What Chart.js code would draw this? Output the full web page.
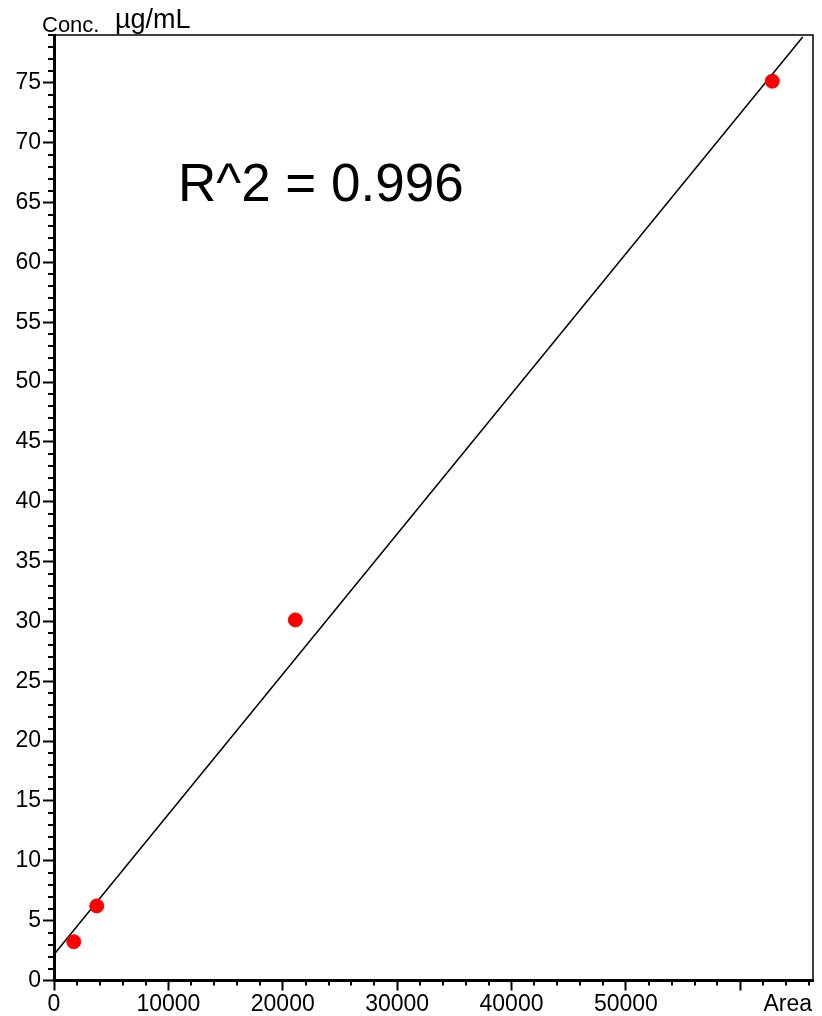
<!DOCTYPE html>
<html>
<head>
<meta charset="utf-8">
<title>Calibration curve</title>
<script src="https://cdn.jsdelivr.net/npm/chart.js@4.4.0/dist/chart.umd.min.js"></script>
<style>
    html, body { margin: 0; padding: 0; background: #fff; }
    #wrap { width: 822px; height: 1016px; }
</style>
</head>
<body>
<div id="wrap"><canvas id="calib" width="822" height="1016"></canvas></div>
<script>
// Standards: peak area against concentration (µg/mL)
const areas = [1730, 3740, 21100, 62800];
const concs = [3.24, 6.23, 30.13, 75.14];

// Ends of the regression line
const fitAreas = [0, 65460];
const fitConcs = [2.17, 78.83];

const r2Label = 'R^2 = 0.996';

// Labelled (major) ticks; the 60000 tick carries no label
const xTickValues = [0, 10000, 20000, 30000, 40000, 50000, 60000];
const xTickLabels = ['0', '10000', '20000', '30000', '40000', '50000', ''];
const yTickValues = [0, 5, 10, 15, 20, 25, 30, 35, 40, 45, 50, 55, 60, 65, 70, 75];
const xMinorStep = 2000;
const yMinorStep = 1;

const FONT = '"Liberation Sans", Arial, sans-serif';
const TICK_FONT_SIZE = 23;

/**
 * Short minor ticks between the labelled ones
 */
const minorTicks = {
    id: 'minorTicks',
    afterDraw(chart) {
        const { ctx, chartArea } = chart;
        const x = chart.scales.x;
        const y = chart.scales.y;

        ctx.save();
        ctx.strokeStyle = '#000';
        ctx.lineWidth = 2;
        ctx.beginPath();
        for (let v = 0; v <= x.max; v += xMinorStep) {
            if (xTickValues.includes(v)) {
                continue;
            }
            const px = Math.round(x.getPixelForValue(v));
            ctx.moveTo(px, chartArea.bottom);
            ctx.lineTo(px, chartArea.bottom + 5);
        }
        for (let v = 0; v <= y.max; v += yMinorStep) {
            if (yTickValues.includes(v)) {
                continue;
            }
            const py = Math.round(y.getPixelForValue(v));
            ctx.moveTo(chartArea.left, py);
            ctx.lineTo(chartArea.left - 6, py);
        }
        ctx.stroke();

        // thin frame on the top and right sides
        ctx.lineWidth = 1.5;
        ctx.beginPath();
        ctx.moveTo(chartArea.left, chartArea.top);
        ctx.lineTo(chartArea.right, chartArea.top);
        ctx.lineTo(chartArea.right, chartArea.bottom);
        ctx.stroke();
        ctx.restore();
    },
};

/**
 * Axis captions and the R^2 note
 */
const captions = {
    id: 'captions',
    afterDraw(chart) {
        const { ctx, chartArea } = chart;

        ctx.save();
        ctx.fillStyle = '#000';
        ctx.textAlign = 'left';
        ctx.textBaseline = 'alphabetic';

        ctx.font = `22px ${FONT}`;
        ctx.fillText('Conc.', 42, 32);
        ctx.font = `27px ${FONT}`;
        ctx.fillText('µg/mL', 115, 28);

        ctx.font = `53px ${FONT}`;
        ctx.fillText(r2Label, 178, 201);

        ctx.font = `${TICK_FONT_SIZE}px ${FONT}`;
        ctx.textAlign = 'right';
        ctx.textBaseline = 'middle';
        ctx.fillText('Area', 812, chartArea.bottom + 10 + TICK_FONT_SIZE * 0.6);
        ctx.restore();
    },
};

const points = areas.map((a, i) => ({ x: a, y: concs[i] }));
const fitLine = fitAreas.map((a, i) => ({ x: a, y: fitConcs[i] }));

new Chart(document.getElementById('calib'), {
    type: 'scatter',
    data: {
        datasets: [
            {
                label: 'Standards',
                data: points,
                backgroundColor: '#ff0000',
                borderColor: '#ff0000',
                pointRadius: 7,
                pointHoverRadius: 7,
                order: 0,
            },
            {
                label: 'Fit',
                data: fitLine,
                showLine: true,
                borderColor: '#000',
                borderWidth: 1.5,
                pointRadius: 0,
                tension: 0,
                order: 1,
            },
        ],
    },
    options: {
        responsive: false,
        animation: false,
        events: [],
        layout: {
            padding: { top: 35, right: 9, left: 0, bottom: 0 },
        },
        plugins: {
            legend: { display: false },
            tooltip: { enabled: false },
        },
        scales: {
            x: {
                type: 'linear',
                bounds: 'data',
                min: 0,
                max: 66360,
                afterBuildTicks(scale) {
                    scale.ticks = xTickValues.map((value) => ({ value }));
                },
                afterFit(scale) {
                    scale.height = 35.5;
                },
                border: { display: true, color: '#000', width: 3 },
                grid: {
                    drawOnChartArea: false,
                    drawTicks: true,
                    tickLength: 10,
                    tickWidth: 2,
                    tickColor: '#000',
                },
                ticks: {
                    maxRotation: 0,
                    autoSkip: false,
                    padding: 0,
                    color: '#000',
                    font: { family: FONT, size: TICK_FONT_SIZE },
                    callback: (value, index) => xTickLabels[index] ?? '',
                },
            },
            y: {
                type: 'linear',
                bounds: 'data',
                min: 0,
                max: 79,
                afterBuildTicks(scale) {
                    scale.ticks = yTickValues.map((value) => ({ value }));
                },
                afterFit(scale) {
                    scale.width = 54;
                },
                border: { display: true, color: '#000', width: 3 },
                grid: {
                    drawOnChartArea: false,
                    drawTicks: true,
                    tickLength: 11,
                    tickWidth: 2,
                    tickColor: '#000',
                },
                ticks: {
                    autoSkip: false,
                    padding: 2,
                    color: '#000',
                    font: { family: FONT, size: TICK_FONT_SIZE },
                },
            },
        },
    },
    plugins: [minorTicks, captions],
});
</script>
</body>
</html>
